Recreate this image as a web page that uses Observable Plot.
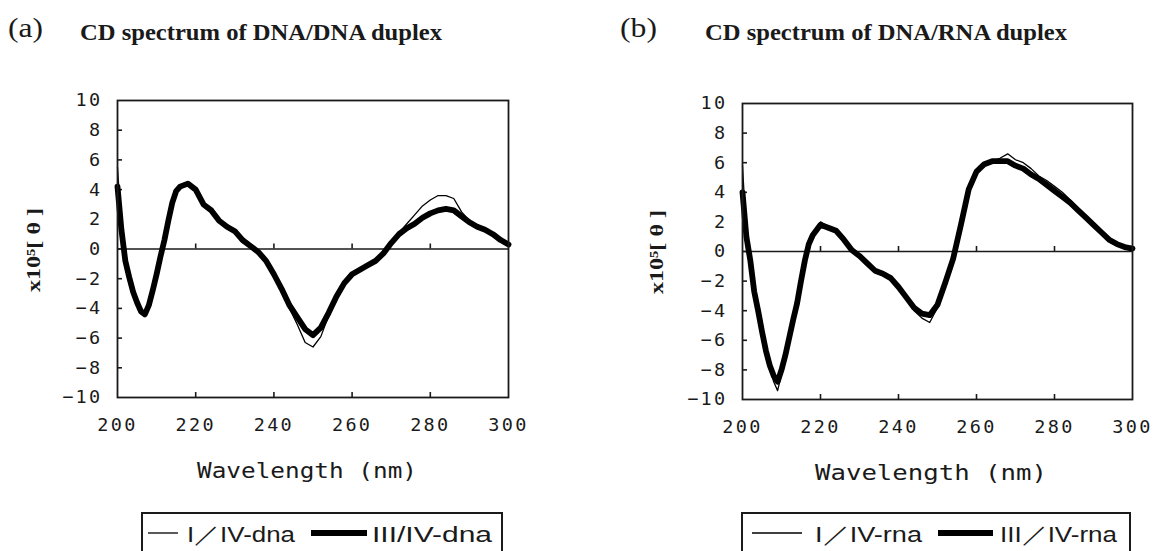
<!DOCTYPE html>
<html>
<head>
<meta charset="utf-8">
<script src="https://cdn.jsdelivr.net/npm/d3@7"></script>
<script src="https://cdn.jsdelivr.net/npm/@observablehq/plot@0.6"></script>
<style>
  html, body { margin: 0; padding: 0; background: #fff; }
  #root { position: relative; width: 1154px; height: 551px; overflow: hidden; background: #fff; }
  #root > .panel { position: absolute; top: 0; }
  #overlay { position: absolute; left: 0; top: 0; pointer-events: none; }
</style>
</head>
<body>
<div id="root"></div>
<script>
// ---------- data ----------
const panelLetters = ["(a)", "(b)"];
const panelTitles = ["CD spectrum of DNA/DNA duplex", "CD spectrum of DNA/RNA duplex"];
const legendNames = [["I／IV-dna", "III/IV-dna"], ["I／IV-rna", "III／IV-rna"]];
const xLabel = "Wavelength (nm)";
const yLabel = "x10⁵[ θ ]";
const xTicks = [200, 220, 240, 260, 280, 300];
const yTicks = [-10, -8, -6, -4, -2, 0, 2, 4, 6, 8, 10];

// (a) DNA/DNA duplex
const dnaWavelength = [200, 201, 202, 203, 204, 205, 206, 207, 208, 209, 210, 211, 212, 213, 214, 215, 216, 218, 220, 222, 224, 226, 228, 230, 232, 234, 236, 238, 240, 242, 244, 246, 248, 250, 252, 254, 256, 258, 260, 262, 264, 266, 268, 270, 272, 274, 276, 278, 280, 282, 284, 286, 288, 290, 292, 294, 296, 298, 300];
const dnaI = [5.5, 1.3, -0.8, -1.9, -2.9, -3.6, -4.2, -4.4, -3.8, -2.8, -1.7, -0.5, 0.6, 1.9, 3.1, 3.9, 4.2, 4.4, 4.0, 3.0, 2.6, 1.9, 1.5, 1.2, 0.6, 0.2, -0.2, -0.8, -1.7, -2.8, -4.0, -5.1, -6.3, -6.6, -5.9, -4.5, -3.3, -2.3, -1.7, -1.4, -1.1, -0.8, -0.3, 0.4, 1.1, 1.7, 2.3, 2.9, 3.3, 3.6, 3.6, 3.4, 2.5, 1.9, 1.5, 1.3, 1.0, 0.6, 0.3];
const dnaIII = [4.2, 1.3, -0.8, -1.9, -2.9, -3.6, -4.2, -4.4, -3.8, -2.8, -1.7, -0.5, 0.6, 1.9, 3.1, 3.9, 4.2, 4.4, 4.0, 3.0, 2.6, 1.9, 1.5, 1.2, 0.6, 0.2, -0.2, -0.8, -1.7, -2.7, -3.8, -4.6, -5.4, -5.8, -5.3, -4.3, -3.2, -2.3, -1.7, -1.4, -1.1, -0.8, -0.3, 0.4, 1.0, 1.4, 1.7, 2.1, 2.4, 2.6, 2.7, 2.6, 2.2, 1.8, 1.5, 1.3, 1.0, 0.6, 0.3];

// (b) DNA/RNA duplex
const rnaWavelength = [200, 201, 202, 203, 204, 205, 206, 207, 208, 209, 210, 211, 212, 213, 214, 215, 216, 217, 218, 220, 222, 224, 226, 228, 230, 232, 234, 236, 238, 240, 242, 244, 246, 248, 250, 252, 254, 256, 258, 260, 262, 264, 266, 268, 270, 272, 274, 276, 278, 280, 282, 284, 286, 288, 290, 292, 294, 296, 298, 300];
const rnaI = [5.8, 1.0, -0.6, -2.7, -4.0, -5.4, -6.8, -7.9, -8.8, -9.4, -8.3, -7.0, -5.8, -4.6, -3.5, -2.0, -0.6, 0.5, 1.2, 2.0, 1.7, 1.4, 0.8, 0.1, -0.3, -0.8, -1.3, -1.5, -1.8, -2.5, -3.2, -4.0, -4.5, -4.8, -3.8, -2.1, -0.5, 1.8, 4.2, 5.4, 5.9, 6.1, 6.3, 6.6, 6.2, 6.0, 5.6, 5.1, 4.8, 4.4, 4.0, 3.5, 2.9, 2.3, 1.8, 1.3, 0.8, 0.5, 0.3, 0.2];
const rnaIII = [4.0, 1.0, -0.6, -2.7, -4.0, -5.4, -6.7, -7.7, -8.4, -8.8, -8.0, -7.0, -5.8, -4.6, -3.5, -2.0, -0.6, 0.5, 1.1, 1.8, 1.6, 1.4, 0.8, 0.1, -0.3, -0.8, -1.3, -1.5, -1.8, -2.4, -3.1, -3.8, -4.2, -4.3, -3.6, -2.1, -0.5, 1.8, 4.2, 5.4, 5.9, 6.1, 6.1, 6.1, 5.8, 5.6, 5.2, 4.9, 4.5, 4.1, 3.7, 3.3, 2.8, 2.3, 1.8, 1.3, 0.8, 0.5, 0.3, 0.2];

// ---------- drawing ----------
const root = document.getElementById("root");
const INK = "#1a1a1a";

function drawPanel(wl, thinVals, thickVals, m) {
  const rows = wl.map((w, i) => ({w, thin: thinVals[i], thick: thickVals[i]}));
  const innerX = xTicks.slice(1, -1);
  const innerY = yTicks.slice(1, -1);
  const plotH = 500 - m.top - m.bottom;
  const plotW = 577 - m.left - m.right;
  const tickY = 5 * 20 / plotH;   // 5px inward tick, in data units
  const tickX = 5 * 100 / plotW;
  return Plot.plot({
    width: 577,
    height: 500,
    marginTop: m.top, marginRight: m.right, marginBottom: m.bottom, marginLeft: m.left,
    x: {domain: [200, 300]},
    y: {domain: [-10, 10]},
    style: {fontFamily: "'DejaVu Sans Mono', monospace", fontSize: "18.5px", letterSpacing: "2.3px", color: INK, background: "transparent"},
    marks: [
      Plot.ruleY([0], {stroke: INK, strokeWidth: 1.6}),
      // inward ticks on the zero line, the bottom edge and the left edge
      Plot.ruleX(innerX, {x: d => d, y1: 0, y2: tickY, stroke: INK, strokeWidth: 1.6}),
      Plot.ruleX(innerX, {x: d => d, y1: -10, y2: -10 + tickY, stroke: INK, strokeWidth: 1.6}),
      Plot.ruleY(innerY, {y: d => d, x1: 200, x2: 200 + tickX, stroke: INK, strokeWidth: 1.6}),
      Plot.axisX(xTicks, {anchor: "bottom", tickSize: 0, tickPadding: 20, label: null, fill: INK}),
      Plot.axisY(yTicks, {anchor: "left", tickSize: 0, tickPadding: 15, label: null, fill: INK}),
      Plot.line(rows, {x: "w", y: "thin", stroke: "#000", strokeWidth: 1.3, strokeLinejoin: "round"}),
      Plot.line(rows, {x: "w", y: "thick", stroke: "#000", strokeWidth: 5.8, strokeLinejoin: "round", strokeLinecap: "round"}),
      Plot.frame({stroke: INK, strokeWidth: 1.8})
    ]
  });
}

const left = drawPanel(dnaWavelength, dnaI, dnaIII, {top: 100, right: 69, bottom: 103, left: 117});
left.classList.add("panel");
left.style.left = "0px";
root.appendChild(left);

const right = drawPanel(rnaWavelength, rnaI, rnaIII, {top: 103, right: 22, bottom: 101, left: 165});
right.classList.add("panel");
right.style.left = "577px";
root.appendChild(right);

// ---------- annotations (titles, axis labels, legends) ----------
const svg = d3.select(root).append("svg")
  .attr("id", "overlay").attr("width", 1154).attr("height", 551);

const panels = [
  {letterX: 8, letterW: 35, titleX: 80, titleW: 362, yLabX: 40, yLabY: 250, yLabW: 84,
   xLabX: 197, xLabW: 220, xLabY: 478,
   box: [142, 502], thin: [148, 178], text1: [187, 108], thick: [311, 367], text2: [372, 120]},
  {letterX: 620, letterW: 37, titleX: 705, titleW: 362, yLabX: 663, yLabY: 252, yLabW: 84,
   xLabX: 815, xLabW: 232, xLabY: 480,
   box: [742, 1130], thin: [752, 802], text1: [815, 107], thick: [938, 993], text2: [1000, 117]}
];

function fitText(sel, w) {
  return sel.attr("textLength", w).attr("lengthAdjust", "spacingAndGlyphs");
}

panels.forEach((p, k) => {
  fitText(svg.append("text")
    .attr("x", p.letterX).attr("y", 37)
    .attr("font-family", "'Liberation Serif', serif").attr("font-size", 28)
    .attr("fill", INK).text(panelLetters[k]), p.letterW);
  fitText(svg.append("text")
    .attr("x", p.titleX).attr("y", 40)
    .attr("font-family", "'Liberation Serif', serif").attr("font-size", 23).attr("font-weight", "bold")
    .attr("fill", INK).text(panelTitles[k]), p.titleW);
  fitText(svg.append("text")
    .attr("transform", `translate(${p.yLabX},${p.yLabY + p.yLabW / 2}) rotate(-90)`)
    .attr("font-family", "'Liberation Serif', serif").attr("font-size", 19).attr("font-weight", "bold")
    .attr("fill", INK).text(yLabel), p.yLabW);
  fitText(svg.append("text")
    .attr("x", p.xLabX).attr("y", p.xLabY)
    .attr("font-family", "'DejaVu Sans Mono', monospace").attr("font-size", 21)
    .attr("fill", INK).text(xLabel), p.xLabW);
  // legend
  svg.append("rect")
    .attr("x", p.box[0]).attr("y", 513).attr("width", p.box[1] - p.box[0]).attr("height", 60)
    .attr("fill", "none").attr("stroke", INK).attr("stroke-width", 2);
  svg.append("line").attr("x1", p.thin[0]).attr("x2", p.thin[1]).attr("y1", 533).attr("y2", 533)
    .attr("stroke", "#000").attr("stroke-width", 1.3);
  svg.append("line").attr("x1", p.thick[0]).attr("x2", p.thick[1]).attr("y1", 533).attr("y2", 533)
    .attr("stroke", "#000").attr("stroke-width", 5.8);
  fitText(svg.append("text")
    .attr("x", p.text1[0]).attr("y", 542)
    .attr("font-family", "'Liberation Sans', Arial, sans-serif").attr("font-size", 22)
    .attr("fill", INK).text(legendNames[k][0]), p.text1[1]);
  fitText(svg.append("text")
    .attr("x", p.text2[0]).attr("y", 542)
    .attr("font-family", "'Liberation Sans', Arial, sans-serif").attr("font-size", 22)
    .attr("fill", INK).text(legendNames[k][1]), p.text2[1]);
});
</script>
</body>
</html>
